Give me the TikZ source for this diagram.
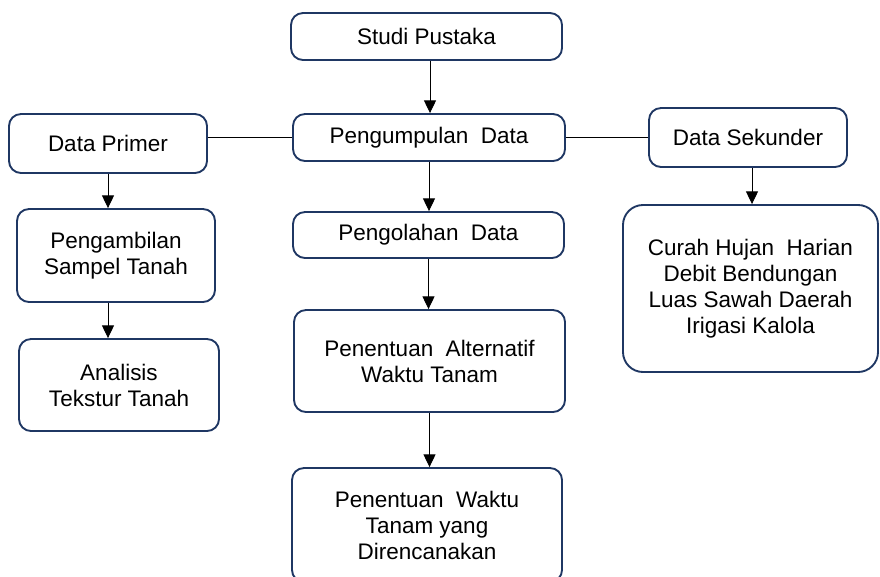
\documentclass[tikz,border=0pt]{standalone}
\usepackage{fontspec}
\setmainfont{Liberation Sans}
\usetikzlibrary{arrows.meta}
\definecolor{boxblue}{HTML}{1F3763}

\begin{document}
\begin{tikzpicture}[x=0.03cm, y=-0.03cm, >={Triangle[width=0.36cm, length=0.38cm]},
    box/.style={draw=boxblue, line width=1.6pt, rounded corners=0.36cm, align=center,
        inner sep=0pt, font=\fontsize{19.2}{22.2}\selectfont},
    link/.style={black, line width=0.8pt}]
    \useasboundingbox (0,0) rectangle (880,576);

    % Middle column
    \node[box, minimum width=8.13cm, minimum height=1.41cm] (studi) at (426.5, 36.5) {Studi Pustaka};
    \node[box, minimum width=8.16cm, minimum height=1.41cm] (kumpul) at (429, 137.5) {Pengumpulan\ \ Data};
    \node[box, minimum width=8.13cm, minimum height=1.38cm] (olah) at (428.5, 235) {Pengolahan\ \ Data};
    \node[box, minimum width=8.13cm, minimum height=3.06cm] (alternatif) at (429.5, 361) {Penentuan\ \ Alternatif\\Waktu Tanam};
    \node[box, minimum width=8.10cm, minimum height=3.42cm] (rencana) at (427, 525) {Penentuan\ \ Waktu\\Tanam yang\\Direncanakan};

    % Left column
    \node[box, minimum width=5.94cm, minimum height=1.77cm] (primer) at (108, 143.5) {Data Primer};
    \node[box, minimum width=5.94cm, minimum height=2.79cm] (ambil) at (116, 255.5) {Pengambilan\\Sampel\ Tanah};
    \node[box, minimum width=6.00cm, minimum height=2.76cm] (analisis) at (119, 385) {Analisis\\Tekstur Tanah};

    % Right column
    \node[box, minimum width=5.94cm, minimum height=1.77cm] (sekunder) at (748, 137.5) {Data Sekunder};
    \node[box, rounded corners=0.6cm, minimum width=7.65cm, minimum height=5.01cm] (curah) at (750.5, 288.5)
        {Curah Hujan\ \ Harian\\Debit Bendungan\\Luas Sawah Daerah\\Irigasi Kalola};

    % Connectors
    \draw[link, ->] (studi.south) ++(3.5,0) coordinate (s1) -- (s1 |- kumpul.north);
    \draw[link] (primer.east |- kumpul.west) -- (kumpul.west);
    \draw[link] (kumpul.east) -- (kumpul.east -| sekunder.west);
    \draw[link, ->] (kumpul.south) -- (kumpul.south |- olah.north);
    \draw[link, ->] (olah.south) -- (olah.south |- alternatif.north);
    \draw[link, ->] (alternatif.south) -- (alternatif.south |- rencana.north);
    \draw[link, ->] (primer.south) -- (primer.south |- ambil.north);
    \draw[link, ->] (ambil.south) ++(-8,0) coordinate (a1) -- (a1 |- analisis.north);
    \draw[link, ->] (sekunder.south) ++(4,0) coordinate (k1) -- (k1 |- curah.north);
\end{tikzpicture}
\end{document}
